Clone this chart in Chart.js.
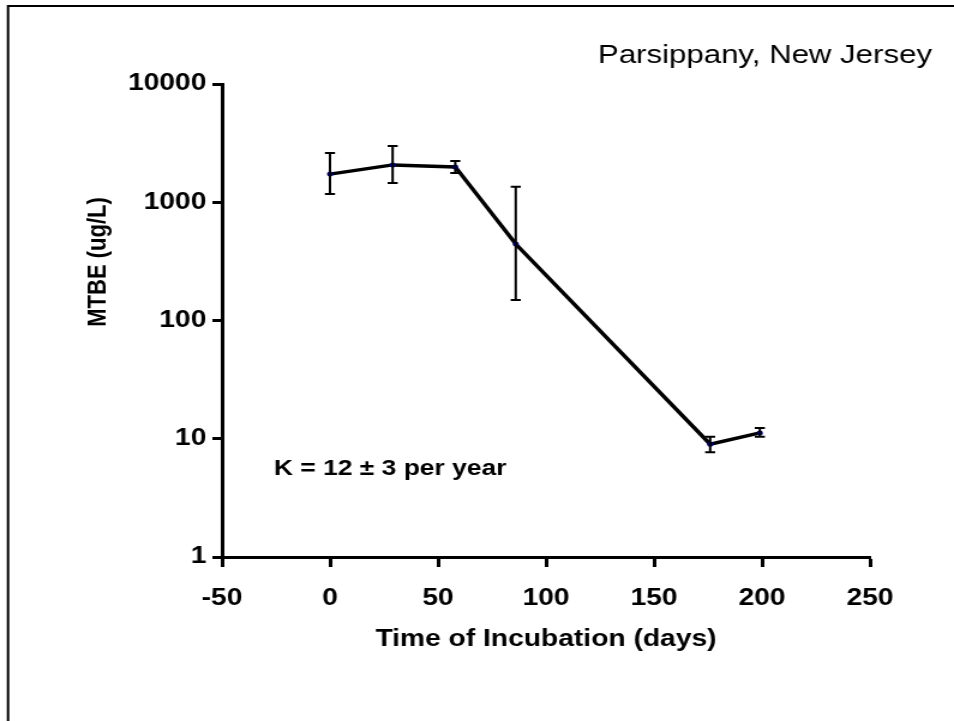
<!DOCTYPE html>
<html>
<head>
<meta charset="utf-8">
<script src="https://cdn.jsdelivr.net/npm/chart.js@4"></script>
<style>
  html, body { margin: 0; padding: 0; background: #fff; }
</style>
</head>
<body>
<!-- drawn at 795 wide, shown at 954: the reference text is stretched sideways -->
<canvas id="mtbeChart" width="795" height="721" style="width:954px;height:721px;display:block"></canvas>
<script>
// MTBE decay, Parsippany NJ

const days = [0, 29, 58, 86, 176, 199];
const mtbe = [1730, 2070, 1990, 443, 9.0, 11.2];
const errHigh = [2610, 2990, 2230, 1350, 10.4, 12.3];
const errLow = [1175, 1455, 1770, 149, 7.7, 10.4];
const yTicks = [1, 10, 100, 1000, 10000];

const siteLabel = 'Parsippany, New Jersey';
const rateLabel = 'K = 12 \u00b1 3 per year';
const yTitle = 'MTBE (ug/L)';

const labelFont = "'Liberation Sans', Arial, sans-serif";

const frameAndNotes = {
    id: 'frameAndNotes',
    beforeDraw(chart) {
        const c = chart.ctx;
        c.save();
        c.fillStyle = '#fff';
        c.fillRect(0, 0, chart.width, chart.height);
        c.strokeStyle = '#000';
        c.lineWidth = 2;
        c.beginPath();
        c.moveTo(6.7, chart.height + 5);
        c.lineTo(6.7, 6);
        c.lineTo(chart.width + 5, 6);
        c.stroke();
        c.restore();
    },
    afterDraw(chart) {
        const c = chart.ctx;
        c.save();
        c.fillStyle = '#000';
        c.textBaseline = 'alphabetic';
        c.font = "26px " + labelFont;
        c.textAlign = 'right';
        c.fillText(siteLabel, 776.7, 63);
        c.font = "bold 22px " + labelFont;
        c.textAlign = 'left';
        c.fillText(rateLabel, 228.3, 475);
        // y axis title sits above the middle in the original
        c.translate(81.7, 262);
        c.rotate(-Math.PI / 2);
        c.textAlign = 'center';
        c.textBaseline = 'middle';
        c.font = "bold 22px " + labelFont;
        c.fillText(yTitle, 0, 0);
        c.restore();
    }
};

const errorBars = {
    id: 'errorBars',
    afterDatasetsDraw(chart) {
        const c = chart.ctx;
        const xs = chart.scales.x;
        const ys = chart.scales.y;
        c.save();
        c.strokeStyle = '#000';
        c.lineWidth = 2;
        for (let i = 0; i < days.length; i++) {
            const px = xs.getPixelForValue(days[i]);
            const top = ys.getPixelForValue(errHigh[i]);
            const bot = ys.getPixelForValue(errLow[i]);
            c.beginPath();
            c.moveTo(px, top);
            c.lineTo(px, bot);
            c.moveTo(px - 4.2, top);
            c.lineTo(px + 4.2, top);
            c.moveTo(px - 4.2, bot);
            c.lineTo(px + 4.2, bot);
            c.stroke();
        }
        c.restore();
    }
};

new Chart(document.getElementById('mtbeChart'), {
    type: 'scatter',
    data: {
        datasets: [{
            data: days.map((d, i) => ({ x: d, y: mtbe[i] })),
            showLine: true,
            borderColor: '#000',
            borderWidth: 3.5,
            pointRadius: 2.5,
            pointBackgroundColor: '#000080',
            pointBorderColor: '#000080',
            pointBorderWidth: 0
        }]
    },
    options: {
        responsive: false,
        animation: false,
        layout: {
            padding: { left: 0, top: 84, right: 70, bottom: 0 }
        },
        plugins: {
            legend: { display: false },
            tooltip: { enabled: false }
        },
        scales: {
            x: {
                type: 'linear',
                min: -50,
                max: 250,
                afterFit(scale) { scale.height = 164; },
                ticks: {
                    stepSize: 50,
                    color: '#000',
                    padding: 17,
                    font: { family: labelFont, size: 23.5, weight: 'bold' }
                },
                grid: {
                    drawOnChartArea: false,
                    tickLength: 10,
                    tickWidth: 3,
                    tickColor: '#000'
                },
                border: { display: true, color: '#000', width: 3 },
                title: {
                    display: true,
                    text: 'Time of Incubation (days)',
                    color: '#000',
                    padding: { top: 0, bottom: 67 },
                    font: { family: labelFont, size: 23.5, weight: 'bold' }
                }
            },
            y: {
                type: 'logarithmic',
                min: 1,
                max: 10000,
                afterFit(scale) { scale.width = 185; },
                afterBuildTicks(scale) {
                    scale.ticks = yTicks.map(v => ({ value: v }));
                },
                ticks: {
                    color: '#000',
                    padding: 5,
                    callback: v => String(v),
                    font: { family: labelFont, size: 23.5, weight: 'bold' }
                },
                grid: {
                    drawOnChartArea: false,
                    tickLength: 8,
                    tickWidth: 3,
                    tickColor: '#000'
                },
                border: { display: true, color: '#000', width: 3 }
            }
        }
    },
    plugins: [frameAndNotes, errorBars]
});
</script>
</body>
</html>
